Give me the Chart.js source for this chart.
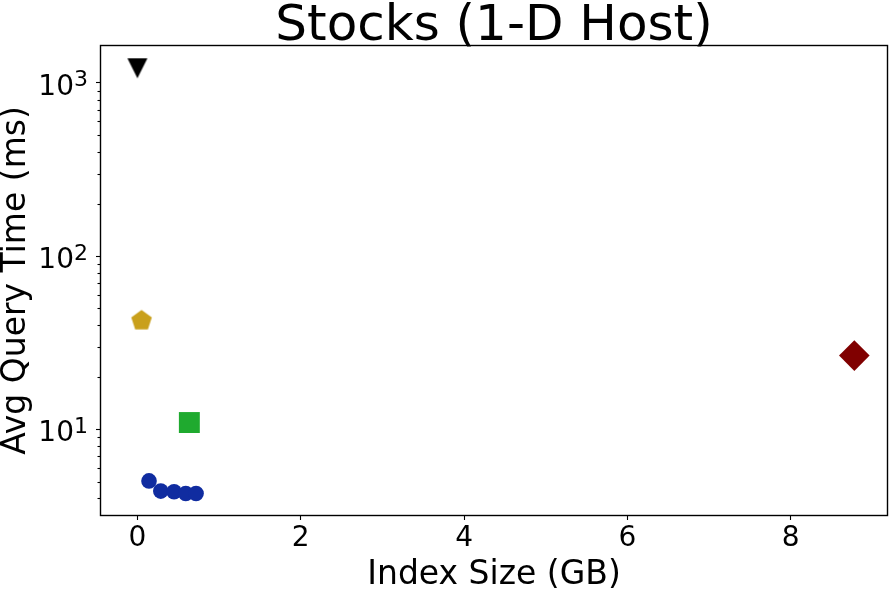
<!DOCTYPE html>
<html>
<head>
<meta charset="utf-8">
<script src="https://cdn.jsdelivr.net/npm/chart.js@4/dist/chart.umd.min.js"></script>
<style>
  html, body { margin: 0; padding: 0; background: #fff; }
  canvas { display: block; }
</style>
</head>
<body>
<canvas id="chart" width="892" height="592"></canvas>
<script>
// values (x: GB, y: ms)
const triSize = [0.0]
const triTime = [1216]
const pentSize = [0.05]
const pentTime = [42.5]
const squareSize = [0.636]
const squareTime = [10.97]
const diamondSize = [8.78]
const diamondTime = [26.7]
const circleSize = [0.142, 0.286, 0.449, 0.592, 0.718]
const circleTime = [5.05, 4.41, 4.37, 4.27, 4.27]

const xTickValues = [0, 2, 4, 6, 8]
const yTickValues = [10, 100, 1000]

function toPoints(xs, ys) {
  return xs.map((x, i) => ({ x: x, y: ys[i] }))
}

// matplotlib style 'v' marker
function triangleDown(size, color) {
  const c = document.createElement('canvas')
  c.width = size + 2
  c.height = size + 2
  const g = c.getContext('2d')
  g.fillStyle = color
  g.beginPath()
  g.moveTo(1, 1)
  g.lineTo(size + 1, 1)
  g.lineTo(size / 2 + 1, size + 1)
  g.closePath()
  g.fill()
  return c
}

// matplotlib style 'p' marker
function pentagon(r, color) {
  const s = Math.ceil(2 * r + 2)
  const c = document.createElement('canvas')
  c.width = s
  c.height = s
  const g = c.getContext('2d')
  g.fillStyle = color
  g.beginPath()
  for (let k = 0; k < 5; k++) {
    const a = -Math.PI / 2 + k * 2 * Math.PI / 5
    const px = s / 2 + r * Math.cos(a)
    const py = s / 2 + r * Math.sin(a)
    if (k === 0) g.moveTo(px, py)
    else g.lineTo(px, py)
  }
  g.closePath()
  g.fill()
  return c
}

const framePlugin = {
  id: 'frame',
  afterDraw(chart) {
    const { ctx, chartArea } = chart
    const y = chart.scales.y
    ctx.save()
    ctx.strokeStyle = '#000'
    ctx.lineWidth = 1.4
    const l = Math.round(chartArea.left) - 0.5
    const t = Math.round(chartArea.top) - 0.5
    const r = Math.round(chartArea.right) + 0.5
    const b = Math.round(chartArea.bottom) + 0.5
    ctx.strokeRect(l, t, r - l, b - t)
    // minor log ticks
    ctx.lineWidth = 1.1
    for (let k = 0; k < 4; k++) {
      for (let m = 2; m < 10; m++) {
        const v = m * Math.pow(10, k)
        if (v < y.min || v > y.max) continue
        const py = Math.round(y.getPixelForValue(v)) + 0.5
        ctx.beginPath()
        ctx.moveTo(chartArea.left - 3.5, py)
        ctx.lineTo(chartArea.left, py)
        ctx.stroke()
      }
    }
    // y tick labels as 10 with a raised exponent
    ctx.fillStyle = '#000'
    ctx.textBaseline = 'alphabetic'
    ctx.textAlign = 'right'
    yTickValues.forEach(v => {
      const py = y.getPixelForValue(v)
      const exp = String(Math.round(Math.log10(v)))
      const xr = chartArea.left - 13
      ctx.font = '22px "DejaVu Sans"'
      const ew = ctx.measureText(exp).width
      ctx.fillText(exp, xr, py + 3.5)
      ctx.font = '28px "DejaVu Sans"'
      ctx.fillText('10', xr - ew, py + 11.6)
    })
    // title
    ctx.font = '50px "DejaVu Sans"'
    ctx.textAlign = 'center'
    ctx.fillText('Stocks (1-D Host)', (chartArea.left + chartArea.right) / 2, 40)
    ctx.restore()
  }
}

Chart.defaults.font.family = '"DejaVu Sans"'
Chart.defaults.color = '#000'

const myChart = new Chart(document.getElementById('chart'), {
  type: 'scatter',
  data: {
    datasets: [
      {
        label: 'A',
        data: toPoints(triSize, triTime),
        pointStyle: triangleDown(20, '#000000'),
        backgroundColor: '#000000'
      },
      {
        label: 'B',
        data: toPoints(pentSize, pentTime),
        pointStyle: pentagon(10.8, '#c9a01b'),
        backgroundColor: '#c9a01b'
      },
      {
        label: 'C',
        data: toPoints(squareSize, squareTime),
        pointStyle: 'rect',
        pointRadius: 14.8,
        backgroundColor: '#1faa2f',
        borderWidth: 0
      },
      {
        label: 'D',
        data: toPoints(diamondSize, diamondTime),
        pointStyle: 'rectRot',
        pointRadius: 15.3,
        backgroundColor: '#800000',
        borderWidth: 0
      },
      {
        label: 'E',
        data: toPoints(circleSize, circleTime),
        pointStyle: 'circle',
        pointRadius: 7.8,
        backgroundColor: '#102ca0',
        borderWidth: 0
      }
    ]
  },
  options: {
    responsive: false,
    animation: false,
    layout: { autoPadding: false, padding: { top: 46, right: 5, left: 0, bottom: 0 } },
    plugins: {
      legend: { display: false },
      tooltip: { enabled: false }
    },
    scales: {
      x: {
        type: 'linear',
        min: -0.446,
        max: 9.18,
        afterBuildTicks: s => { s.ticks = xTickValues.map(v => ({ value: v })) },
        afterFit: s => { s.height = 77; s.paddingLeft = 0; s.paddingRight = 0 },
        border: { display: false },
        grid: { display: true, drawOnChartArea: false, drawTicks: true, tickLength: 5, tickColor: '#000', tickWidth: 1.1 },
        ticks: { font: { size: 28 }, padding: 2, maxRotation: 0, color: '#000' },
        title: { display: true, text: 'Index Size (GB)', font: { size: 33, lineHeight: 1 }, padding: { top: 0, bottom: 0 }, color: '#000' }
      },
      y: {
        type: 'logarithmic',
        min: 3.21,
        max: 1635,
        afterBuildTicks: s => { s.ticks = yTickValues.map(v => ({ value: v })) },
        afterFit: s => { s.width = 101; s.paddingTop = 0; s.paddingBottom = 0 },
        border: { display: false },
        grid: { display: true, drawOnChartArea: false, drawTicks: true, tickLength: 5, tickColor: '#000', tickWidth: 1.1 },
        ticks: { display: false },
        title: { display: true, text: 'Avg Query Time (ms)', font: { size: 33, lineHeight: 1 }, padding: { top: 0, bottom: 0 }, color: '#000' }
      }
    }
  },
  plugins: [framePlugin]
})
</script>
</body>
</html>
